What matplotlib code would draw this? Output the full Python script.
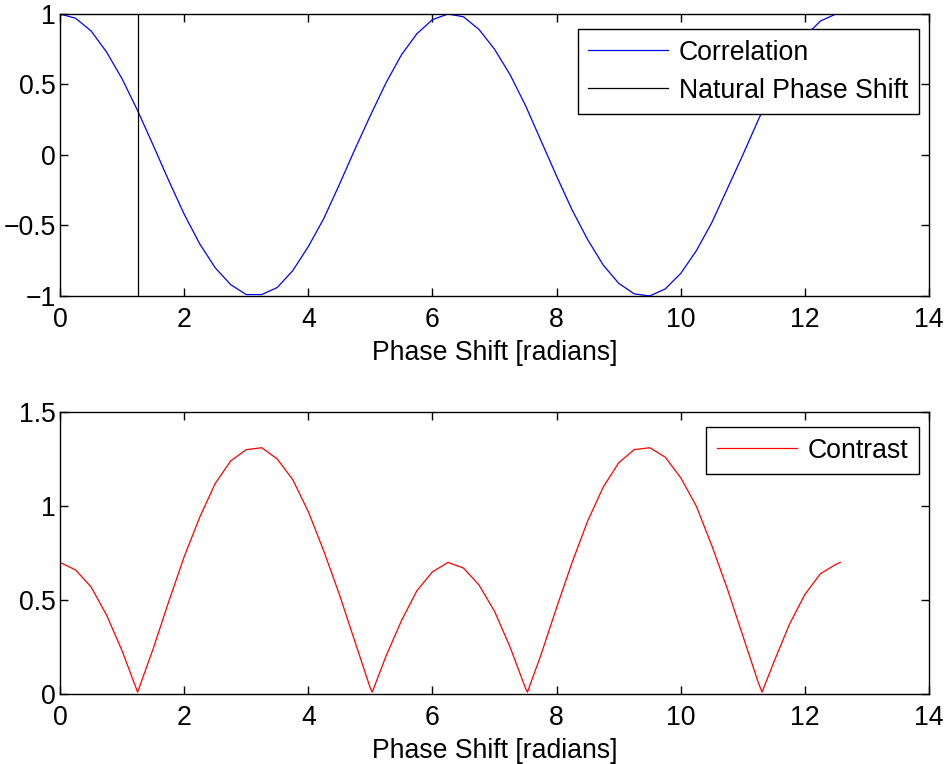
import matplotlib
matplotlib.use('Agg')
import matplotlib.pyplot as plt

plt.rcParams['font.family'] = ['Liberation Sans', 'DejaVu Sans']
plt.rcParams['font.size'] = 19.2

# phase shift samples (radians)
phase = [0, 0.25, 0.5, 0.75, 1.0, 1.25, 1.5, 1.75, 2.0, 2.25, 2.5, 2.75, 3.0,
         3.25, 3.5, 3.75, 4.0, 4.25, 4.5, 4.75, 5.0, 5.25, 5.5, 5.75, 6.0,
         6.25, 6.5, 6.75, 7.0, 7.25, 7.5, 7.75, 8.0, 8.25, 8.5, 8.75, 9.0,
         9.25, 9.5, 9.75, 10.0, 10.25, 10.5, 10.75, 11.0, 11.25, 11.5, 11.75,
         12.0, 12.25, 12.5, 12.57]
correlation = [1.00, 0.97, 0.88, 0.73, 0.54, 0.315, 0.07, -0.18, -0.42, -0.63,
               -0.80, -0.92, -0.99, -0.99, -0.94, -0.82, -0.65, -0.45, -0.21,
               0.04, 0.28, 0.51, 0.71, 0.86, 0.96, 1.00, 0.98, 0.89, 0.75,
               0.57, 0.35, 0.10, -0.15, -0.39, -0.60, -0.78, -0.91, -0.985,
               -1.00, -0.95, -0.84, -0.68, -0.48, -0.24, 0.00, 0.25, 0.48,
               0.69, 0.84, 0.95, 1.00, 1.00]

natural_shift = 1.26

contrast_phase = [0, 0.25, 0.5, 0.75, 1.0, 1.25, 1.5, 1.75, 2.0, 2.25, 2.5,
                  2.75, 3.0, 3.25, 3.5, 3.75, 4.0, 4.25, 4.5, 4.75, 5.0, 5.03,
                  5.25, 5.5, 5.75, 6.0, 6.25, 6.5, 6.75, 7.0, 7.25, 7.5, 7.53,
                  7.75, 8.0, 8.25, 8.5, 8.75, 9.0, 9.25, 9.5, 9.75, 10.0,
                  10.25, 10.5, 10.75, 11.0, 11.25, 11.31, 11.5, 11.75, 12.0,
                  12.25, 12.5, 12.57]
contrast = [0.70, 0.66, 0.57, 0.42, 0.23, 0.01, 0.24, 0.49, 0.73, 0.94, 1.12,
            1.24, 1.30, 1.31, 1.25, 1.14, 0.97, 0.76, 0.53, 0.28, 0.03, 0.01,
            0.20, 0.39, 0.55, 0.65, 0.70, 0.67, 0.58, 0.44, 0.25, 0.03, 0.01,
            0.21, 0.46, 0.70, 0.92, 1.10, 1.23, 1.30, 1.31, 1.26, 1.15, 1.00,
            0.79, 0.56, 0.31, 0.06, 0.01, 0.17, 0.37, 0.53, 0.64, 0.69, 0.70]

fig = plt.figure(figsize=(9.48, 7.64), dpi=100)
ax1 = fig.add_axes([0.0633, 0.6126, 0.9167, 0.3691])
ax2 = fig.add_axes([0.0633, 0.0916, 0.9167, 0.3691])

ax1.plot(phase, correlation, color='blue', lw=0.9, label='Correlation')
ax1.plot([natural_shift, natural_shift], [-1, 1], color='black', lw=0.9,
         label='Natural Phase Shift')
ax1.set_ylim(-1, 1)
ax1.set_yticks([-1, -0.5, 0, 0.5, 1])
ax1.set_yticklabels(['\u22121', '\u22120.5', '0', '0.5', '1'])

ax2.plot(contrast_phase, contrast, color='red', lw=0.9, label='Contrast')
ax2.set_ylim(0, 1.5)
ax2.set_yticks([0, 0.5, 1, 1.5])
ax2.set_yticklabels(['0', '0.5', '1', '1.5'])

for ax in (ax1, ax2):
    ax.set_xlim(0, 14)
    ax.set_xticks(range(0, 15, 2))
    ax.set_xlabel('Phase Shift [radians]', labelpad=5)
    ax.tick_params(direction='in', top=True, right=True, length=6, width=1)
    ax.tick_params(axis='x', pad=8)
    ax.tick_params(axis='y', pad=3)
    for s in ax.spines.values():
        s.set_linewidth(1.0)
    leg = ax.legend(loc='upper right', bbox_to_anchor=(1 - 10 / 869, 1 - 15 / 282),
                    borderaxespad=0, fancybox=False, framealpha=1,
                    edgecolor='black', handlelength=3.0, handletextpad=0.4,
                    labelspacing=0.45, borderpad=0.4)
    leg.get_frame().set_linewidth(1.0)

fig.savefig('out.png', dpi=100)
